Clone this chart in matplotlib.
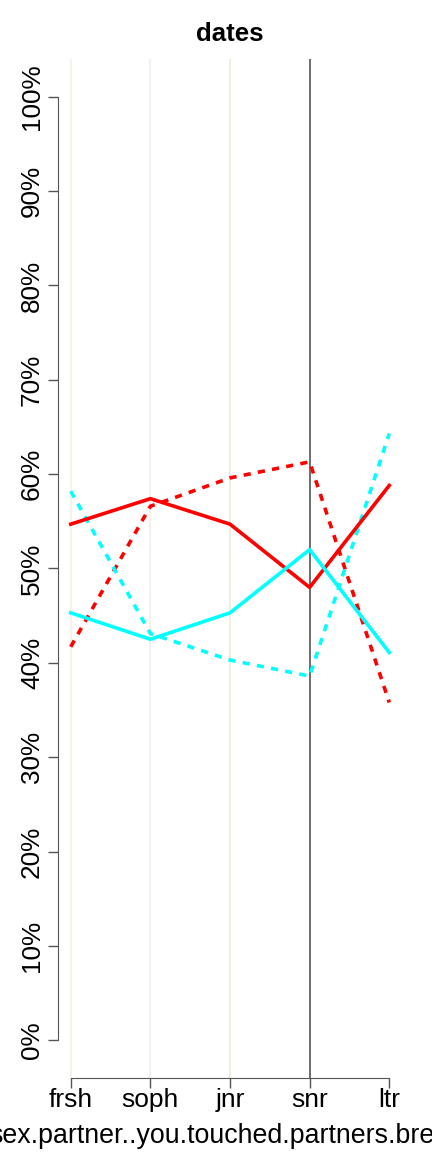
import numpy as np
import matplotlib
matplotlib.use('Agg')
import matplotlib.pyplot as plt

plt.rcParams['font.family'] = ['Liberation Sans', 'DejaVu Sans']

years = ['frsh', 'soph', 'jnr', 'snr', 'ltr']
red_solid = [54.7, 57.4, 54.7, 48.0, 58.8]
cyan_solid = [45.3, 42.5, 45.3, 52.0, 41.1]
red_dash = [41.7, 56.6, 59.6, 61.3, 35.8]
cyan_dash = [58.2, 43.1, 40.3, 38.6, 64.3]
vline_colors = ['#f3f1e4', '#f1efe6', '#eeebd6', '#555555']
yticks = [0, 10, 20, 30, 40, 50, 60, 70, 80, 90, 100]

fig = plt.figure(figsize=(4.32, 11.52), dpi=100)
ax = fig.add_axes([58/432, 1-1078/1152, 344/432, 1019/1152])

x = np.arange(1, len(years)+1)
for xi, c in zip(x, vline_colors):
    ax.axvline(xi, color=c, lw=1.2, zorder=1)

ax.plot(x, red_dash, color='red', lw=2.6, ls=(0, (2, 2)), zorder=3)
ax.plot(x, cyan_dash, color='cyan', lw=2.6, ls=(0, (2, 2)), zorder=3)
ax.plot(x, red_solid, color='red', lw=2.6, zorder=4)
ax.plot(x, cyan_solid, color='cyan', lw=2.6, zorder=4)

ax.set_xlim(0.84, 5.16)
ax.set_ylim(-4, 104)

for s in ['top', 'right']:
    ax.spines[s].set_visible(False)
ax.spines['left'].set_bounds(0, 100)
ax.spines['bottom'].set_bounds(1, 5)
ax.spines['left'].set_color('#555555')
ax.spines['bottom'].set_color('#555555')

ax.set_yticks(yticks)
ax.set_yticklabels([f'{v}%' for v in yticks], rotation=90, va='center', fontsize=18.8)
ax.set_xticks(x)
ax.set_xticklabels(years, fontsize=19)
ax.tick_params(axis='both', color='#555555', length=7, width=1)
ax.tick_params(axis='x', pad=0)
ax.tick_params(axis='y', pad=3)

ax.set_title('dates', fontsize=18.5, fontweight='bold', pad=13)
ax.set_xlabel('sex.partner..you.touched.partners.breast', fontsize=19.3, labelpad=8)

fig.savefig('out.png', dpi=100)
